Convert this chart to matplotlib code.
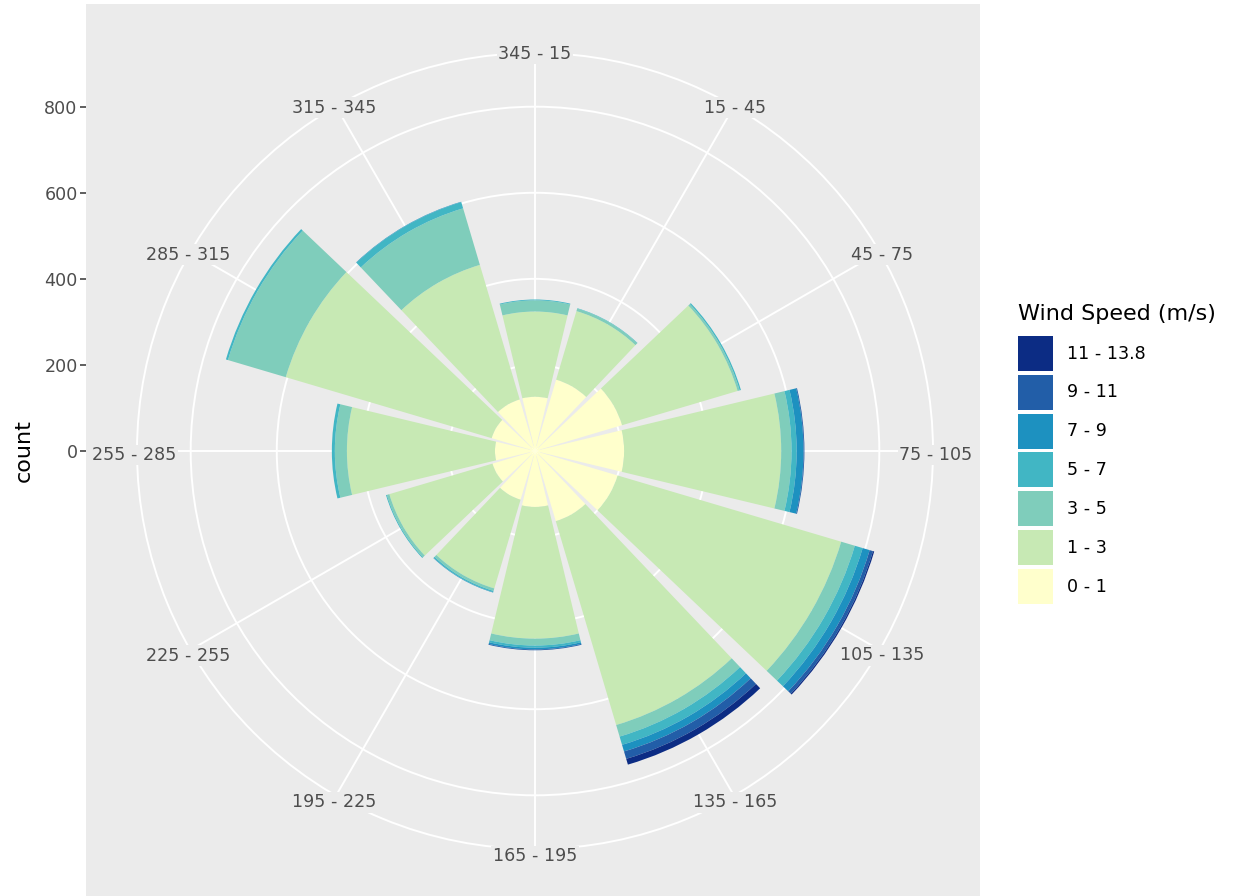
import numpy as np
import matplotlib.pyplot as plt
from matplotlib.patches import Patch
from matplotlib.transforms import offset_copy

# wind direction sectors, clockwise from north
directions = ["345 - 15", "15 - 45", "45 - 75", "75 - 105", "105 - 135", "135 - 165",
              "165 - 195", "195 - 225", "225 - 255", "255 - 285", "285 - 315", "315 - 345"]
sector_deg = np.arange(12) * 30

speed_bins = ["0 - 1", "1 - 3", "3 - 5", "5 - 7", "7 - 9", "9 - 11", "11 - 13.8"]

# counts per speed bin for each sector
cnt_0_1 = [126, 173, 211, 207, 200, 170, 130, 118, 103, 93, 105, 125]
cnt_1_3 = [198, 166, 280, 365, 542, 494, 306, 215, 250, 344, 499, 326]
cnt_3_5 = [26, 6, 5, 24, 33, 28, 16, 6, 6, 28, 140, 137]
cnt_5_7 = [2, 1, 3, 12, 19, 20, 5, 3, 2, 7, 5, 15]
cnt_7_9 = [0, 0, 0, 16, 17, 16, 4, 1, 0, 0, 0, 1]
cnt_9_11 = [0, 0, 0, 2, 8, 18, 2, 0, 0, 0, 0, 0]
cnt_11_14 = [0, 0, 0, 0, 3, 14, 0, 0, 0, 0, 0, 0]

# YlGnBu, 7 classes
palette = ["#FFFFCC", "#C7E9B4", "#7FCDBB", "#41B6C4", "#1D91C0", "#225EA8", "#0C2C84"]

layers = [cnt_0_1, cnt_1_3, cnt_3_5, cnt_5_7, cnt_7_9, cnt_9_11, cnt_11_14]
totals = np.sum(layers, axis=0)

W, H = 1233, 896
fig = plt.figure(figsize=(W / 100, H / 100), dpi=100)
bg = "#EBEBEB"

# geometry in pixels (from bottom-left)
cx, cy = 535, 445
rad = 398                      # outer circle radius
r_outer = totals.max() * 1.125  # ggplot: bars to 0.4, outer ring at 0.45
px_per = rad / r_outer

# grey panel with the count axis on its left
px0, px1, py1 = 86, 980, 892
panel = fig.add_axes([px0 / W, 0, (px1 - px0) / W, py1 / H])
panel.set_facecolor(bg)
for s in panel.spines.values():
    s.set_visible(False)
panel.set_xticks([])
panel.set_ylim((0 - cy) / px_per, (py1 - cy) / px_per)
panel.set_yticks([0, 200, 400, 600, 800])
panel.tick_params(axis="y", colors="#333333", labelcolor="#4D4D4D", labelsize=12.6,
                  length=4, width=1.1, pad=2)
panel.set_ylabel("count", fontsize=16, color="black")
panel.yaxis.set_label_coords((34 - px0) / (px1 - px0), cy / py1)

# polar wind rose
ax = fig.add_axes([(cx - rad) / W, (cy - rad) / H, 2 * rad / W, 2 * rad / H],
                  projection="polar")
ax.set_facecolor("none")
ax.set_theta_zero_location("N")
ax.set_theta_direction(-1)
ax.set_axisbelow(True)

theta = np.deg2rad(sector_deg)
width = np.deg2rad(30) * 0.9
bottom = np.zeros(12)
for vals, col in zip(layers, palette):
    ax.bar(theta, vals, width=width, bottom=bottom, color=col, linewidth=0, align="center")
    bottom += np.array(vals)

ax.set_ylim(0, r_outer)
ax.set_yticks([200, 400, 600, 800])
ax.set_yticklabels([])
ax.set_xticks(theta)
ax.set_xticklabels([])
ax.tick_params(axis="x", length=0)
ax.grid(color="white", linewidth=1.4)
ax.spines["polar"].set_color("white")
ax.spines["polar"].set_linewidth(1.4)
ax.spines["polar"].set_zorder(0.6)

# sector labels sit on the outer ring (a touch outward and down, like ggplot)
lab_tr = offset_copy(ax.transData, fig=fig, x=0, y=-4, units="dots")
for t, lab in zip(theta, directions):
    ax.text(t, r_outer + 3 / px_per, lab, transform=lab_tr, ha="center", va="center",
            fontsize=12.6, color="#4D4D4D", zorder=3,
            bbox=dict(facecolor=bg, edgecolor="none", pad=1.0))

# legend
handles = [Patch(facecolor=c, edgecolor="none") for c in palette][::-1]
leg = fig.legend(handles, speed_bins[::-1], title="Wind Speed (m/s)", loc="upper left",
                 bbox_to_anchor=(1018 / W, (H - 304) / H), frameon=False,
                 fontsize=12.6, title_fontsize=16, handlelength=2.0, handleheight=2.7,
                 labelspacing=0.22, handletextpad=0.8, borderpad=0, borderaxespad=0,
                 alignment="left")
leg._legend_box.sep = 8.5

fig.savefig("out.png", dpi=100)
